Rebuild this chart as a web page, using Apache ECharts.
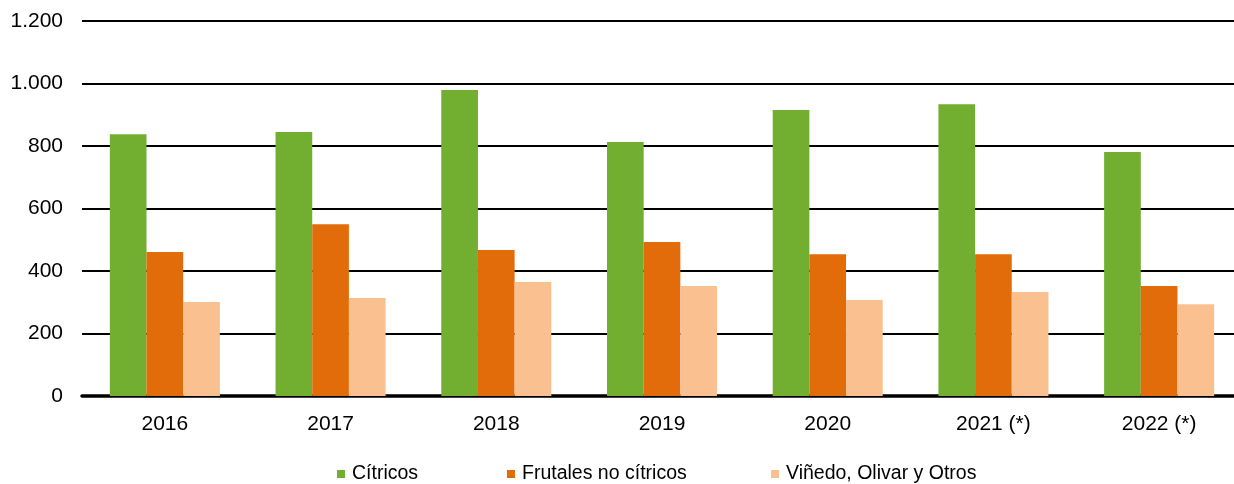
<!DOCTYPE html>
<html>
<head>
<meta charset="utf-8">
<script src="https://cdn.jsdelivr.net/npm/echarts@6/dist/echarts.min.js"></script>
<style>
  html, body { margin: 0; padding: 0; background: #fff; overflow: hidden; }
  /* the plot area runs a few pixels past the right edge of the window */
  #chart { width: 1242px; height: 484px; }
</style>
</head>
<body>
<div id="chart"></div>
<script>
// Superficie por grupo de cultivo, 2016–2022
const years = ['2016', '2017', '2018', '2019', '2020', '2021 (*)', '2022 (*)'];
const citricos = [838, 845, 979, 813, 915, 934, 781];
const frutales = [461, 550, 467, 493, 454, 454, 352];
const vinedo = [301, 314, 365, 352, 307, 333, 294];
const seriesNames = ['Cítricos', 'Frutales no cítricos', 'Viñedo, Olivar y Otros'];
const seriesColors = ['#72AE30', '#E36C0A', '#FAC090'];

const font = 'Liberation Sans, Arial, sans-serif';
const legendLeft = [337, 507, 771];

function fmtThousands(v) {
  return String(v).replace(/\B(?=(\d{3})+(?!\d))/g, '.');
}

const chart = echarts.init(document.getElementById('chart'), null, { renderer: 'canvas' });
chart.setOption({
  animation: false,
  backgroundColor: '#fff',
  grid: { left: 82, right: 0, top: 21, bottom: 88, containLabel: false },
  // one legend block per series so each entry sits at its own position
  legend: seriesNames.map((name, i) => ({
    top: 464,
    left: legendLeft[i],
    padding: 0,
    itemWidth: 8,
    itemHeight: 8,
    icon: 'rect',
    textStyle: { fontFamily: font, fontSize: 19.5, color: '#000', padding: [0, 0, 0, 2] },
    data: [name]
  })),
  xAxis: {
    type: 'category',
    data: years,
    axisLine: { show: true, lineStyle: { color: '#000', width: 3.5 } },
    axisTick: { show: false },
    axisLabel: { fontFamily: font, fontSize: 21, color: '#000', margin: 18 }
  },
  yAxis: {
    type: 'value',
    min: 0,
    max: 1200,
    interval: 200,
    axisLine: { show: false },
    axisTick: { show: false },
    splitLine: { lineStyle: { color: '#000', width: 2 } },
    axisLabel: {
      fontFamily: font, fontSize: 21, color: '#000', margin: 19,
      formatter: v => fmtThousands(v)
    }
  },
  series: [citricos, frutales, vinedo].map((d, i) => ({
    name: seriesNames[i],
    type: 'bar',
    data: d,
    barGap: '0%',
    barCategoryGap: '33.6%',
    itemStyle: { color: seriesColors[i] },
    z: 3
  }))
});
</script>
</body>
</html>
